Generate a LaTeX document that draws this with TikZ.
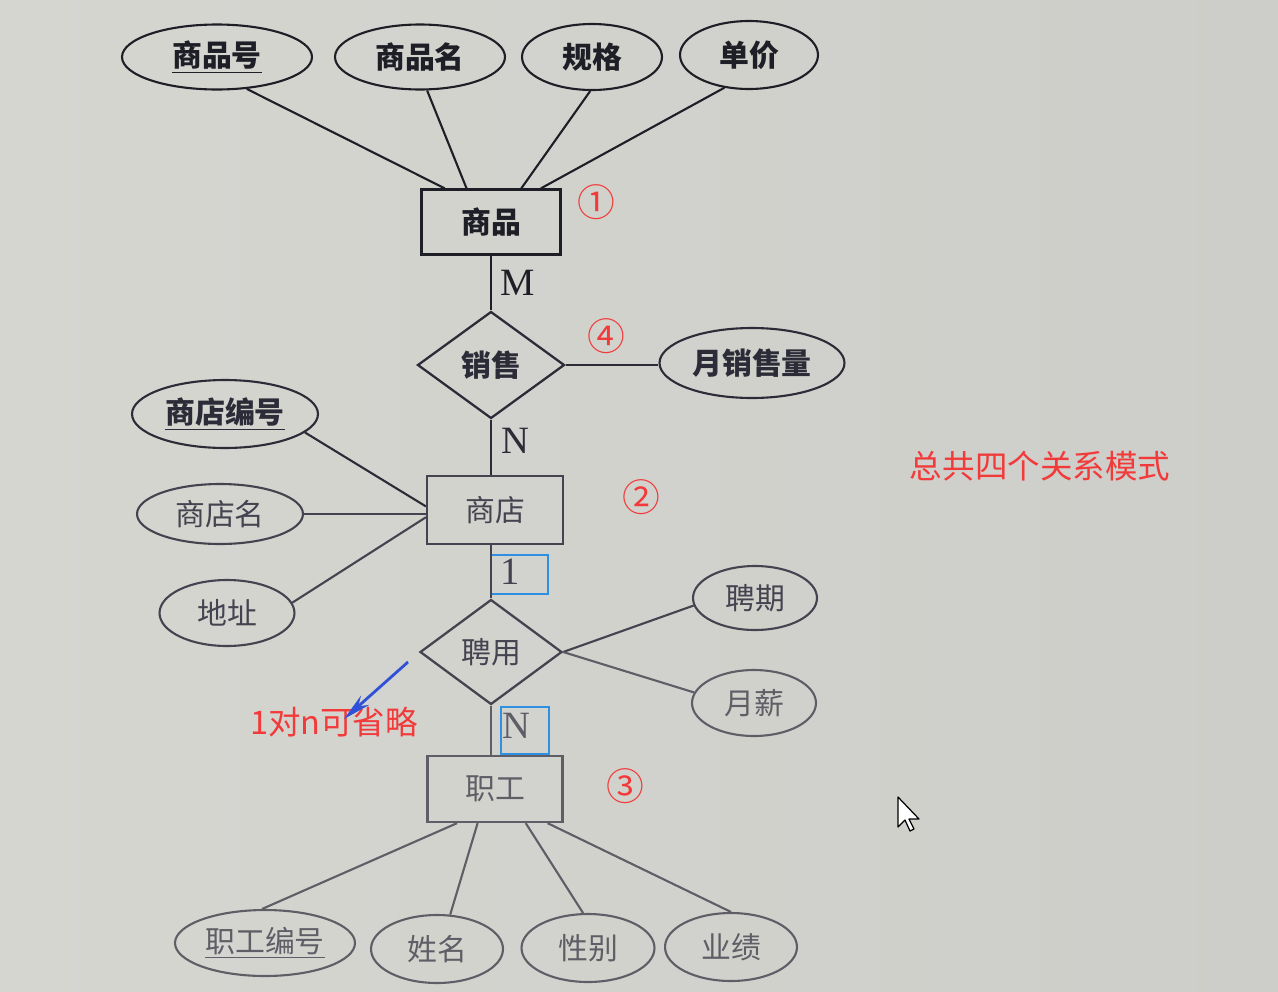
\documentclass[tikz,border=0pt]{standalone}
\usepackage{fontspec}
\newfontfamily\cjk{Noto Sans CJK SC}
\newfontfamily\serifl{Liberation Serif}
\usetikzlibrary{shapes.geometric,arrows.meta}
\definecolor{bgL}{HTML}{D6D6D1}
\definecolor{bgR}{HTML}{CDCDC9}
\definecolor{inkA}{HTML}{1E1E26}
\definecolor{inkB}{HTML}{2C2C38}
\definecolor{inkC}{HTML}{444450}
\definecolor{inkD}{HTML}{5E5E66}
\definecolor{redA}{HTML}{F23A3A}
\definecolor{blueA}{HTML}{2F8FE0}
\definecolor{blueB}{HTML}{3050D8}
\begin{document}
\begin{tikzpicture}[x={(0.02cm,0)},y={(0,-0.02cm)},
  lbl/.style={font=\cjk\fontsize{17}{20}\selectfont},
  blbl/.style={font=\cjk\bfseries\fontsize{17}{20}\selectfont},
  attr/.style={ellipse, draw, line width=1.2pt, inner sep=0pt, lbl},
  entity/.style={rectangle, draw, line width=1.3pt, inner sep=0pt, lbl},
  rel/.style={diamond, draw, line width=1.3pt, inner sep=0pt, lbl},
  conn/.style={line width=1.2pt},
  card/.style={font=\serifl\fontsize{22}{24}\selectfont},
  circnum/.style={text=redA, font=\cjk\fontsize{21.5}{24}\selectfont},
  note/.style={text=redA, font=\cjk\fontsize{18.5}{22}\selectfont},
  blbox/.style={draw=blueA, line width=1.3pt}]
\useasboundingbox (0,0) rectangle (1278,991);
\shade[left color=bgL, right color=bgR] (0,0) rectangle (1278,991);

% ---------- top: 商品 ----------
\node[attr, blbl, draw=inkA, text=inkA, minimum width=3.8cm, minimum height=1.3cm] (spn) at (217,57) {\underline{商品号}};
\node[attr, blbl, draw=inkA, text=inkA, minimum width=3.4cm, minimum height=1.3cm] (spm) at (420,57) {商品名};
\node[attr, blbl, draw=inkA, text=inkA, minimum width=2.8cm, minimum height=1.32cm] (gg) at (592,57) {规格};
\node[attr, blbl, draw=inkA, text=inkA, minimum width=2.76cm, minimum height=1.36cm] (dj) at (749,55) {单价};
\node[entity, blbl, draw=inkA, text=inkA, minimum width=2.78cm, minimum height=1.3cm] (sp) at (491,222) {商品};
\draw[conn, inkA] (spn.-47) -- (sp.144);
\draw[conn, inkA] (spm.-78) -- (sp.126);
\draw[conn, inkA] (gg.-93) -- (sp.48);
\draw[conn, inkA] (dj.-127) -- (sp.34);
\node[card, text=inkA] (cm) at (518,283) {M};

% ---------- 销售 ----------
\node[rel, blbl, draw=inkB, text=inkB, minimum width=2.94cm, minimum height=2.14cm] (xs) at (491,365) {销售};
\node[attr, blbl, draw=inkB, text=inkB, minimum width=3.7cm, minimum height=1.4cm] (yxl) at (752,363) {月销售量};
\draw[conn, inkA] (sp.south) -- (xs.north);
\draw[conn, inkB] (xs.east) -- (xs.east -| yxl.west);
\node[card, text=inkB] (cn1) at (515,441) {N};

% ---------- 商店 ----------
\node[entity, draw=inkC, text=inkC, minimum width=2.72cm, minimum height=1.36cm] (sd) at (495,510) {商店};
\node[attr, blbl, draw=inkB, text=inkB, minimum width=3.72cm, minimum height=1.36cm] (sdbh) at (225,414) {\underline{商店编号}};
\node[attr, draw=inkC, text=inkC, minimum width=3.32cm, minimum height=1.2cm] (sdm) at (220,514) {商店名};
\node[attr, draw=inkC, text=inkC, minimum width=2.7cm, minimum height=1.32cm] (dz) at (227,613) {地址};
\draw[conn, inkB] (xs.south) -- (xs.south |- sd.north);
\draw[conn, inkB] (sdbh.-13) -- (sd.177);
\draw[conn, inkC] (sdm.east) -- (sdm.east -| sd.west);
\draw[conn, inkC] (dz.9) -- (sd.186);
\node[card, text=inkC] (c1) at (510,572) {1};
\node[blbox, minimum width=1.14cm, minimum height=0.78cm, inner sep=0pt] (bb1) at (519.5,574.5) {};

% ---------- 聘用 ----------
\node[rel, draw=inkC, text=inkC, minimum width=2.84cm, minimum height=2.1cm] (py) at (491,652) {聘用};
\node[attr, draw=inkC, text=inkC, minimum width=2.48cm, minimum height=1.28cm] (pq) at (755,598) {聘期};
\node[attr, draw=inkD, text=inkD, minimum width=2.48cm, minimum height=1.32cm] (yx) at (754,703) {月薪};
\draw[conn, inkC] (sd.south -| py.north) -- (py.north);
\draw[conn, inkC] (py.east) -- (pq.187);
\draw[conn, inkD] (py.east) -- (yx.170);
\node[card, text=inkD] (cn2) at (516,726) {N};
\node[blbox, minimum width=0.96cm, minimum height=0.94cm, inner sep=0pt] (bb2) at (525,730.5) {};

% ---------- 职工 ----------
\node[entity, draw=inkD, text=inkD, minimum width=2.7cm, minimum height=1.32cm] (zg) at (495,789) {职工};
\draw[conn, inkD] (py.south) -- (py.south |- zg.north);
\node[attr, draw=inkD, text=inkD, minimum width=3.6cm, minimum height=1.32cm] (zgbh) at (265,943) {\underline{职工编号}};
\node[attr, draw=inkD, text=inkD, minimum width=2.64cm, minimum height=1.36cm] (xm) at (437,949) {姓名};
\node[attr, draw=inkD, text=inkD, minimum width=2.66cm, minimum height=1.36cm] (xb) at (588,948) {性别};
\node[attr, draw=inkD, text=inkD, minimum width=2.64cm, minimum height=1.36cm] (yj) at (731,947) {业绩};
\draw[conn, inkD] (zg.-138) -- (zgbh.95);
\draw[conn, inkD] (zg.-117) -- (xm.69);
\draw[conn, inkD] (zg.-48) -- (xb.98);
\draw[conn, inkD] (zg.-33) -- (yj.90);

% ---------- annotations ----------
\node[circnum] (n1) at (596,202) {①};
\node[circnum] (n4) at (606,336) {④};
\node[circnum] (n2) at (641,497) {②};
\node[circnum] (n3) at (625,786) {③};
\node[note] (tot) at (1040,466) {总共四个关系模式};
\node[note] (omit) at (334,722) {1对n可省略};
\coordinate (ba1) at (408,662);
\coordinate (ba2) at (344,719);
\draw[blueB, line width=1.6pt, -{Stealth[length=16pt, width=7pt]}] (ba1) -- (ba2);

% mouse pointer
\draw[fill=white, draw=black, line width=0.7pt, line join=round]
  (898,797) -- ++(0,30) -- ++(7,-7) -- ++(5,11) -- ++(4,-2) -- ++(-5,-10) -- ++(10,0) -- cycle;
\end{tikzpicture}
\end{document}
